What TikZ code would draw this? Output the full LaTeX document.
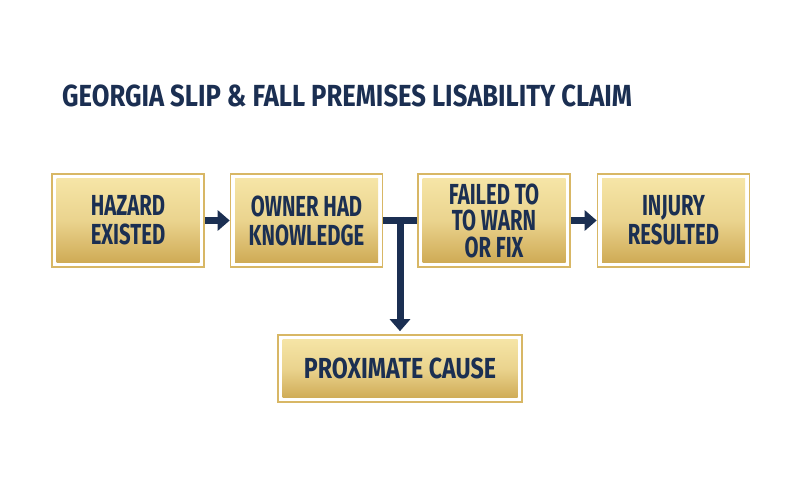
\documentclass[tikz,border=0pt]{standalone}
\usepackage{fontspec}
\setmainfont{Fira Sans}
\newfontfamily\condbold[FakeStretch=0.70]{Fira Sans Bold}
\newfontfamily\widebold[FakeStretch=0.80]{Fira Sans Bold}
\newfontfamily\titlebold[FakeStretch=0.84]{Fira Sans Bold}
\usetikzlibrary{arrows.meta}
\definecolor{navy}{HTML}{1B2F52}
\definecolor{goldline}{HTML}{D8B765}
\definecolor{goldlight}{HTML}{F7E7A9}
\definecolor{golddark}{HTML}{CCA64F}
\tikzset{
  box/.style={draw=goldline, line width=1.6pt, fill=white, align=center,
    text=navy, font=\condbold\fontsize{29}{29}\selectfont, inner sep=0pt,
    path picture={\shade[top color=goldlight, bottom color=golddark, middle color=goldlight!70!golddark]
      ([shift={(4.5pt,4.5pt)}]path picture bounding box.south west) rectangle
      ([shift={(-4.5pt,-4.5pt)}]path picture bounding box.north east);}},
  topbox/.style={box, minimum width=152pt, minimum height=93pt},
  link/.style={draw=navy, line width=7pt},
  arrow/.style={link, -{Triangle[width=20pt,length=12pt]}},
  title/.style={text=navy, font=\titlebold\fontsize{30.5}{33}\selectfont, inner sep=0pt}
}
\begin{document}
\begin{tikzpicture}[x=1pt,y=1pt]
\fill[white] (0,0) rectangle (800,500);
\useasboundingbox (0,0) rectangle (800,500);
\node[title, anchor=base west] (title) at (62,393) {GEORGIA SLIP \& FALL PREMISES LISABILITY CLAIM};
\node[topbox] (b1) at (128,279.5) {HAZARD\\EXISTED};
\node[topbox] (b2) at (306.5,279.5) {OWNER HAD\\KNOWLEDGE};
\node[topbox, font=\condbold\fontsize{29}{26.5}\selectfont] (b3) at (494,279.5) {FAILED TO\\TO WARN\\OR FIX};
\node[topbox] (b4) at (673.5,279.5) {INJURY\\RESULTED};
\node[box, font=\widebold\fontsize{29}{29}\selectfont, minimum width=244pt, minimum height=67pt] (b5) at (400,131.5) {PROXIMATE CAUSE};
\coordinate (tee) at (b5.north |- b2.east);
\draw[arrow] (b1.east) -- (b2.west);
\draw[link] (b2.east) -- (b3.west);
\draw[arrow, shorten >=3pt] ([yshift=3.5pt]tee) -- (b5.north);
\draw[arrow] (b3.east) -- (b4.west);
\end{tikzpicture}
\end{document}
